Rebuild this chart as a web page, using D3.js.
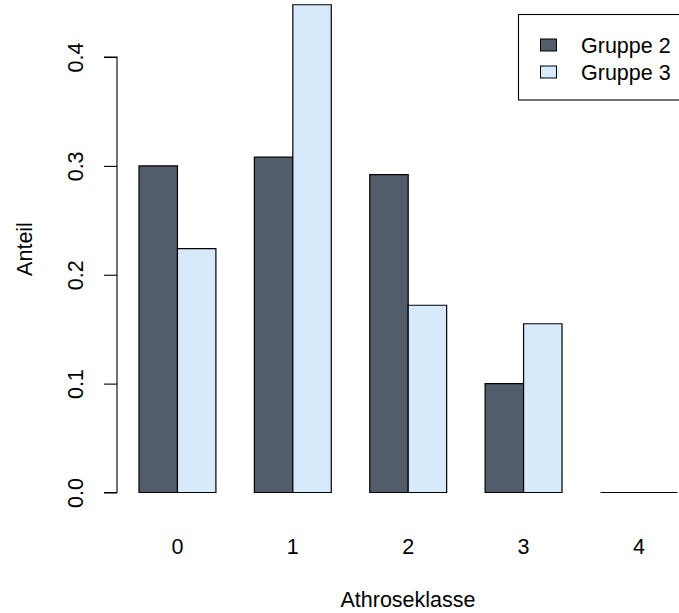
<!DOCTYPE html>
<html>
<head>
<meta charset="utf-8">
<script src="https://cdn.jsdelivr.net/npm/d3@7"></script>
<style>
  html, body { margin: 0; padding: 0; background: #fff; }
  svg text { font-family: "Liberation Sans", Arial, Helvetica, sans-serif; fill: #000; }
</style>
</head>
<body>
<svg id="chart" width="679" height="613"></svg>
<script>
// Anteil je Arthroseklasse, getrennt nach Gruppe
const categories = ["0", "1", "2", "3", "4"];
const seriesNames = ["Gruppe 2", "Gruppe 3"];
const gruppe2 = [0.300, 0.308, 0.292, 0.100, 0.000];
const gruppe3 = [0.224, 0.448, 0.172, 0.155, 0.000];
const yTicks = [0.0, 0.1, 0.2, 0.3, 0.4];
const colors = ["#535c6a", "#d7eafc"];

const svg = d3.select("#chart");
const fontSize = 21.5;

// y scale: value -> pixel
const y = d3.scaleLinear().domain([0, 0.4]).range([492.5, 57]);

// x: one band per category, two bars in each band, one bar-width gap between groups
const x0 = d3.scaleBand()
  .domain(categories)
  .range([139, 677.4])
  .paddingInner(1 / 3)
  .paddingOuter(0);
const x1 = d3.scaleBand()
  .domain(seriesNames)
  .range([0, x0.bandwidth()])
  .padding(0);

const rows = categories.map((c, i) => ({
  cat: c,
  values: [
    { name: seriesNames[0], v: gruppe2[i], color: colors[0] },
    { name: seriesNames[1], v: gruppe3[i], color: colors[1] }
  ]
}));

// bars as closed paths so that zero-height bars still show their outline
const groups = svg.append("g").selectAll("g")
  .data(rows).join("g")
  .attr("transform", d => `translate(${x0(d.cat)},0)`);

groups.selectAll("path")
  .data(d => d.values).join("path")
  .attr("d", d => {
    const xl = x1(d.name), xr = xl + x1.bandwidth();
    return `M${xl},${y(0)}V${y(d.v)}H${xr}V${y(0)}Z`;
  })
  .attr("fill", d => d.color)
  .attr("stroke", "#000")
  .attr("stroke-width", 1.2);

// y axis
const yAxis = d3.axisLeft(y)
  .tickValues(yTicks)
  .tickFormat(d3.format(".1f"))
  .tickSize(13)
  .tickPadding(0);

const gy = svg.append("g")
  .attr("transform", "translate(117,0)")
  .call(yAxis);
gy.select(".domain").attr("stroke", "#000").attr("stroke-width", 1.1)
  .attr("d", `M-13,${y(0)}H0V${y(0.4)}H-13`);
gy.selectAll(".tick line").attr("stroke", "#000").attr("stroke-width", 1.1);
gy.selectAll(".tick text")
  .attr("font-size", fontSize)
  .attr("x", 0).attr("y", 0).attr("dy", null)
  .attr("text-anchor", "middle")
  .attr("transform", "translate(-34,0) rotate(-90)");

// x category labels
svg.append("g").selectAll("text")
  .data(categories).join("text")
  .attr("x", d => x0(d) + x0.bandwidth() / 2)
  .attr("y", 554)
  .attr("text-anchor", "middle")
  .attr("font-size", fontSize)
  .text(d => d);

// axis titles
svg.append("text")
  .attr("x", 408).attr("y", 607)
  .attr("text-anchor", "middle")
  .attr("font-size", fontSize)
  .text("Athroseklasse");

svg.append("text")
  .attr("transform", "translate(32,249) rotate(-90)")
  .attr("text-anchor", "middle")
  .attr("font-size", fontSize)
  .text("Anteil");

// legend
const legend = svg.append("g");
legend.append("rect")
  .attr("x", 518.5).attr("y", 14.5)
  .attr("width", 200).attr("height", 85.5)
  .attr("fill", "#fff")
  .attr("stroke", "#000")
  .attr("stroke-width", 1.1);

const legendRows = [45, 72];
const li = legend.selectAll("g.item")
  .data(seriesNames).join("g")
  .attr("class", "item")
  .attr("transform", (d, i) => `translate(0,${legendRows[i]})`);
li.append("rect")
  .attr("x", 540.5).attr("y", -6)
  .attr("width", 16).attr("height", 12)
  .attr("fill", (d, i) => colors[i])
  .attr("stroke", "#000")
  .attr("stroke-width", 1);
li.append("text")
  .attr("x", 581).attr("y", 7.5)
  .attr("font-size", fontSize)
  .text(d => d);
</script>
</body>
</html>
